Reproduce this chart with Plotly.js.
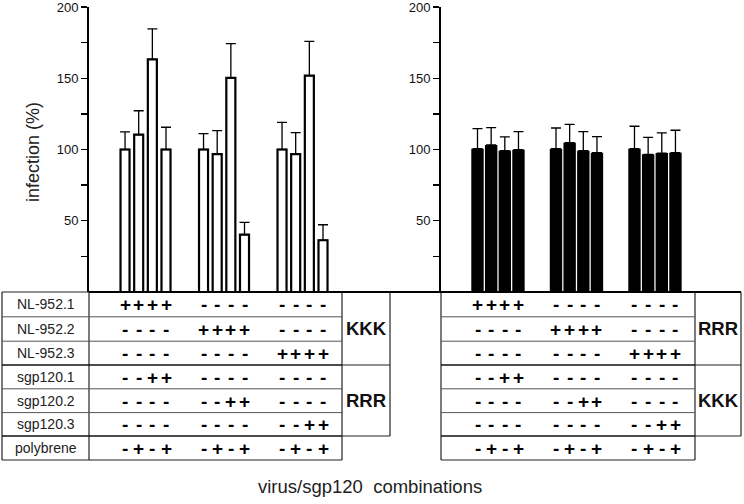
<!DOCTYPE html>
<html>
<head>
<meta charset="utf-8">
<script src="https://cdn.plot.ly/plotly-3.0.1.min.js"></script>
<style>html,body{margin:0;padding:0;background:#fff;}#chart{width:744px;height:504px;}</style>
</head>
<body>
<div id="chart"></div>
<script>
// ---------- data ----------
const groups = [1,1,1,1, 2,2,2,2, 3,3,3,3];
const barIndex = [0,1,2,3, 0,1,2,3, 0,1,2,3];
const leftValues = [100, 110.4, 163.3, 100, 100, 96.8, 150.2, 40.2, 100, 96.8, 151.8, 36.3];
const leftErrors = [12.3, 16.8, 21.3, 15.6, 11.1, 16.4, 24.1, 8.7, 19.1, 15.0, 24.1, 10.9];
const rightValues = [100.6, 103.2, 99.2, 99.9, 100.6, 104.8, 99.2, 97.8, 100.6, 96.6, 97.5, 97.8];
const rightErrors = [14.0, 12.1, 9.6, 12.6, 14.5, 12.9, 13.3, 11.2, 15.7, 11.9, 14.1, 15.7];
const rowLabels = ["NL-952.1","NL-952.2","NL-952.3","sgp120.1","sgp120.2","sgp120.3","polybrene"];
const signRows = [
  "++++--------",
  "----++++----",
  "--------++++",
  "--++--------",
  "------++----",
  "----------++",
  "-+-+-+-+-+-+"
];
const leftGroupLabels = ["KKK","RRR"];
const rightGroupLabels = ["RRR","KKK"];
const yTickVals = [25,50,75,100,125,150,175,200];
const yTickText = ["","50","","100","","150","","200"];
const yTitle = "infection (%)";
const xTitle = "virus/sgp120\u00a0\u00a0combinations";

// ---------- layout helpers ----------
const W = 744, H = 504;
const px = v => v / W;
const py = v => 1 - v / H;
const FONT = "Liberation Sans, Arial, Helvetica, sans-serif";
const xs = groups.map((g, i) => g + (barIndex[i] - 1.5) * 0.174);
const zeros = leftValues.map(() => 0);

const traces = [
  {
    type: "bar", x: xs, y: leftValues, xaxis: "x", yaxis: "y", width: 0.115,
    marker: {color: "#ffffff", line: {color: "#000", width: 2.2}},
    error_y: {type: "data", symmetric: false, array: leftErrors, arrayminus: zeros,
              color: "#000", thickness: 1.3, width: 5},
    hoverinfo: "none"
  },
  {
    type: "bar", x: xs, y: rightValues, xaxis: "x2", yaxis: "y2", width: 0.158,
    marker: {color: "#000000", line: {width: 0}},
    error_y: {type: "data", symmetric: false, array: rightErrors, arrayminus: zeros,
              color: "#000", thickness: 1.3, width: 5},
    hoverinfo: "none"
  }
];

const yDomain = [py(292), py(7)];
const yAxisCommon = {
  range: [0, 200], domain: yDomain, showgrid: false, zeroline: false,
  showline: true, linecolor: "#000", linewidth: 2,
  ticks: "outside", ticklen: 6, tickwidth: 1.3, tickcolor: "#000",
  tickmode: "array", tickvals: yTickVals, ticktext: yTickText,
  ticklabeloverflow: "allow",
  tickfont: {family: FONT, size: 13, color: "#111"}, fixedrange: true
};
const xAxisCommon = {visible: false, showgrid: false, zeroline: false, fixedrange: true};

const shapes = [];
function line(x0, y0, x1, y1, w, c) {
  shapes.push({type: "line", xref: "paper", yref: "paper",
    x0: px(x0), y0: py(y0), x1: px(x1), y1: py(y1),
    line: {color: c || "#222", width: w || 1}});
}
const rowY = [292, 316.8, 341.2, 365, 388.8, 412.6, 436, 460];
// left table
line(2, 292, 2, 460, 1.2);
line(89, 292, 89, 460, 1.2);
line(342, 292, 342, 460, 1.2);
line(2, 460, 342, 460, 1.2);
line(2, 292, 89, 292, 1.2);
for (let r = 1; r < 7; r++) {
  const strong = (r === 3 || r === 6);
  line(2, rowY[r], 342, rowY[r], strong ? 1.3 : 1, strong ? "#111" : "#555");
}
// left group box
line(390, 292, 390, 436, 1.2);
line(342, 365, 390, 365, 1.2);
line(342, 436, 390, 436, 1.2);
// right table
line(441, 292, 441, 460, 1.2);
line(695, 292, 695, 460, 1.2);
line(441, 460, 695, 460, 1.2);
for (let r = 1; r < 7; r++) {
  const strong = (r === 3 || r === 6);
  line(441, rowY[r], 695, rowY[r], strong ? 1.3 : 1, strong ? "#111" : "#555");
}
line(741, 292, 741, 436, 1.2);
line(695, 365, 741, 365, 1.2);
line(695, 436, 741, 436, 1.2);
// baseline
line(89, 292, 741, 292, 2.2, "#000");

const annotations = [];
const rowCenters = rowY.slice(0, 7).map((v, i) => (v + rowY[i + 1]) / 2);
rowLabels.forEach((lab, r) => {
  annotations.push({xref: "paper", yref: "paper", x: px(45.5), y: py(rowCenters[r]),
    text: lab, showarrow: false, xanchor: "center", yanchor: "middle",
    font: {family: FONT, size: 14, color: "#222"}});
  ["x", "x2"].forEach(ax => {
    for (let i = 0; i < 12; i++) {
      annotations.push({xref: ax, yref: "paper", x: xs[i], y: py(rowCenters[r] + 0.5),
        text: "<b>" + signRows[r][i] + "</b>", showarrow: false,
        xanchor: "center", yanchor: "middle",
        font: {family: FONT, size: 19, color: "#000"}});
    }
  });
});
[[leftGroupLabels, 366], [rightGroupLabels, 718]].forEach(([labs, cx]) => {
  labs.forEach((lab, k) => {
    const cy = k === 0 ? (292 + 365) / 2 : (365 + 436) / 2;
    annotations.push({xref: "paper", yref: "paper", x: px(cx), y: py(cy),
      text: "<b>" + lab + "</b>", showarrow: false, xanchor: "center", yanchor: "middle",
      font: {family: FONT, size: 18.5, color: "#111"}});
  });
});
annotations.push({xref: "paper", yref: "paper", x: px(33), y: py(152), text: yTitle,
  textangle: -90, showarrow: false, xanchor: "center", yanchor: "middle",
  font: {family: FONT, size: 18, color: "#222"}});
annotations.push({xref: "paper", yref: "paper", x: px(370), y: py(486), text: xTitle,
  showarrow: false, xanchor: "center", yanchor: "middle",
  font: {family: FONT, size: 18.5, color: "#222"}});

const layout = {
  width: W, height: H, margin: {l: 0, r: 0, t: 0, b: 0, pad: 0},
  paper_bgcolor: "#fff", plot_bgcolor: "rgba(0,0,0,0)", showlegend: false,
  barmode: "overlay",
  xaxis: Object.assign({}, xAxisCommon, {domain: [px(89), px(342)], range: [0.28, 3.503]}),
  xaxis2: Object.assign({}, xAxisCommon, {domain: [px(441), px(695)], range: [0.274, 3.51]}),
  yaxis: Object.assign({}, yAxisCommon, {anchor: "x"}),
  yaxis2: Object.assign({}, yAxisCommon, {anchor: "x2"}),
  shapes: shapes, annotations: annotations
};
Plotly.newPlot("chart", traces, layout, {staticPlot: true, displayModeBar: false});
</script>
</body>
</html>
